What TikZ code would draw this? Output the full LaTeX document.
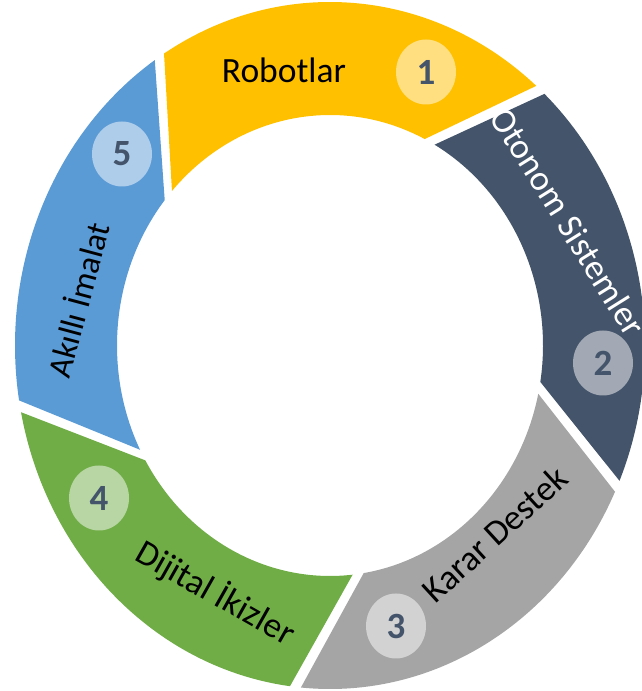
\documentclass[tikz,border=0pt]{standalone}
\usepackage{fontspec}
\setmainfont{Carlito}
\usepackage{tikz}
\usetikzlibrary{shapes.geometric}
\definecolor{ringyellow}{HTML}{FFC000}
\definecolor{ringslate}{HTML}{44546A}
\definecolor{ringgray}{HTML}{A5A5A5}
\definecolor{ringgreen}{HTML}{70AD47}
\definecolor{ringblue}{HTML}{5B9BD5}

\begin{document}
\begin{tikzpicture}[x=1pt, y=1pt,
  label/.style={anchor=base, inner sep=0pt, font=\fontsize{35.5}{42}\selectfont},
  num/.style={ellipse, minimum width=60pt, minimum height=65pt, inner sep=0pt,
    text=ringslate, font=\fontsize{37}{44}\selectfont\bfseries}]
  \useasboundingbox (0,0) rectangle (641,691);
  % ring pieces: colour / outer from / outer to / inner from / inner to
  \foreach \col/\oa/\ob/\ia/\ib in {ringyellow/48.1/122.8/62.1/139.4,
      ringblue/122.8/190.2/139.4/208.4, ringgreen/190.2/263.7/208.4/277.6,
      ringgray/263.7/335.8/277.6/349.4, ringslate/335.8/408.1/349.4/422.1} {
    \pgfmathsetmacro\os{\oa+1}
    \pgfmathsetmacro\oe{\ob-1}
    \pgfmathsetmacro\is{\ib-1.5}
    \pgfmathsetmacro\ie{\ia+1.5}
    \fill[\col, shift={(330,345.5)}] (\os:315 and 343.5)
      arc[start angle=\os, end angle=\oe, x radius=315, y radius=343.5]
      -- (\is:213 and 230.5)
      arc[start angle=\is, end angle=\ie, x radius=213, y radius=230.5] -- cycle;
  }
  % labels
  \node[label] (robotlar) at (284,608) {Robotlar};
  \node[label, text=white, rotate=-58] (otonom) at (558,463) {Otonom Sistemler};
  \node[label, rotate=42.5] (karar) at (503,148) {Karar Destek};
  \node[label, rotate=-29.5] (dijital) at (210,88) {Dijital İkizler};
  \node[label, rotate=75, font=\fontsize{33.5}{40}\selectfont] (akilli) at (90,388) {Akıllı İmalat};
  % step numbers
  \node[num, fill=ringyellow!50!white] (n1) at (426,619) {1};
  \node[num, fill=ringslate!50!white] (n2) at (603,328) {2};
  \node[num, fill=ringgray!50!white] (n3) at (396,65) {3};
  \node[num, fill=ringgreen!50!white] (n4) at (99,193) {4};
  \node[num, fill=ringblue!50!white] (n5) at (122,537) {5};
\end{tikzpicture}
\end{document}
